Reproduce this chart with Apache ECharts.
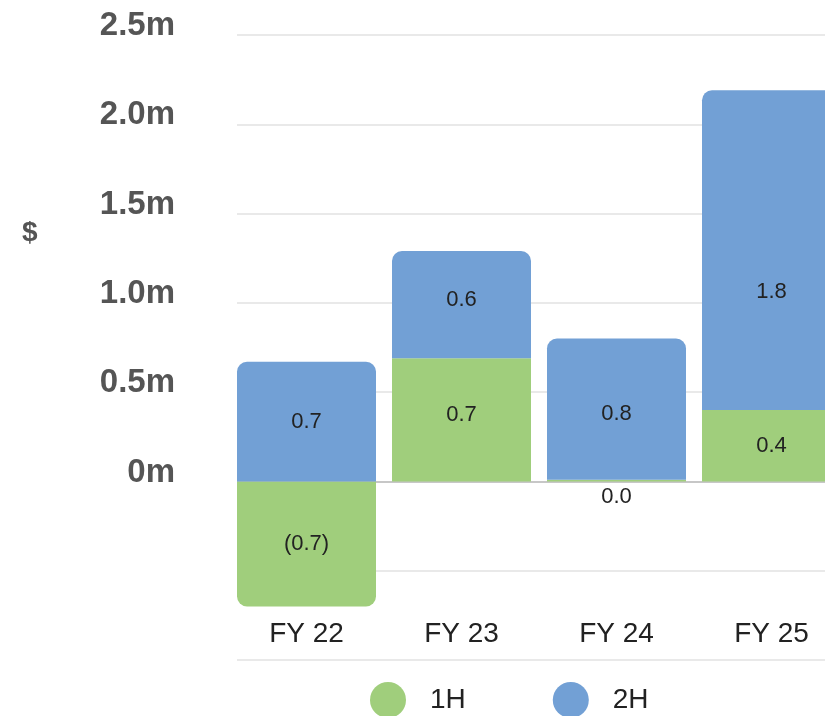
<!DOCTYPE html>
<html>
<head>
<meta charset="utf-8">
<script src="https://cdn.jsdelivr.net/npm/echarts@6/dist/echarts.min.js"></script>
<style>html,body{margin:0;padding:0;background:#fff;}#c{width:825px;height:716px;}</style>
</head>
<body>
<div id="c"></div>
<script>
var categories = ['FY 22', 'FY 23', 'FY 24', 'FY 25'];
var firstHalf = [-0.70, 0.69, 0.01, 0.40];
var secondHalf = [0.67, 0.60, 0.79, 1.79];
var seriesNames = ['1H', '2H'];
var yMin = -1, yMax = 2.5, yStep = 0.5;

var GREEN = '#a0ce7c', BLUE = '#72a0d5';
var FONT = '"Liberation Sans", Arial, sans-serif';

function fmt(v) {
  return v < 0 ? '(' + Math.abs(v).toFixed(1) + ')' : v.toFixed(1);
}

var h1Offsets = [[0, 0], [0, -5], [0, 0], [0, 0]];
var h2Offsets = [[0, 0], [0, -5], [0, 5], [0, 42]];

var h1Data = firstHalf.map(function (v, i) {
  var d = { value: v, label: { offset: h1Offsets[i] } };
  if (v < 0) d.itemStyle = { borderRadius: [0, 0, 10, 10] };
  if (Math.abs(v) < 0.05) d.label = { position: 'bottom', distance: 5 };
  return d;
});
var h2Data = secondHalf.map(function (v, i) {
  return { value: v, label: { offset: h2Offsets[i] } };
});

var chart = echarts.init(document.getElementById('c'), null, { renderer: 'canvas' });
chart.setOption({
  animation: false,
  backgroundColor: '#ffffff',
  textStyle: { fontFamily: FONT },
  graphic: [{
    type: 'text', left: 22, top: 219,
    style: { text: '$', font: 'bold 28px ' + FONT, fill: '#555555' }
  }],
  legend: {
    data: seriesNames,
    left: 370, top: 682, padding: 0,
    itemWidth: 36, itemHeight: 36, itemGap: 87,
    icon: 'circle',
    textStyle: { fontSize: 28, color: '#222222', fontFamily: FONT, padding: [0, 0, 0, 19] }
  },
  grid: [
    { left: 237, width: 612, top: 35, bottom: 56, outerBoundsMode: 'none', containLabel: false },
    { left: 229, width: 620, top: 35, bottom: 56, outerBoundsMode: 'none', containLabel: false }
  ],
  xAxis: [
    { type: 'category', gridIndex: 0, data: categories, show: false },
    {
      type: 'category', gridIndex: 1, data: categories,
      axisLine: { show: false, onZero: false }, axisTick: { show: false },
      axisLabel: { inside: true, margin: 12, fontSize: 28, color: '#222222', fontFamily: FONT }
    }
  ],
  yAxis: [
    {
      type: 'value', gridIndex: 0, min: yMin, max: yMax, interval: yStep,
      axisLine: { show: false }, axisTick: { show: false },
      axisLabel: {
        margin: 62, fontSize: 33, fontWeight: 'bold', color: '#555555', fontFamily: FONT,
        verticalAlign: 'bottom', lineHeight: 18,
        formatter: function (v) { return v < 0 ? '' : (v === 0 ? '0m' : v.toFixed(1) + 'm'); }
      },
      splitLine: { show: true, lineStyle: { width: 1.5, color: ['#e2e2e2', '#e2e2e2', '#b4b4b4', '#e2e2e2', '#e2e2e2', '#e2e2e2', '#e2e2e2', '#e2e2e2'] } }
    },
    {
      type: 'value', gridIndex: 1, min: yMin, max: yMax, interval: yStep, show: false,
      splitLine: { show: false }
    }
  ],
  series: [
    {
      name: seriesNames[0], type: 'bar', stack: 'total', xAxisIndex: 1, yAxisIndex: 1,
      barWidth: 139, itemStyle: { color: GREEN },
      label: { show: true, position: 'inside', fontSize: 22, color: '#222222', fontFamily: FONT,
        formatter: function (p) { return fmt(p.value); } },
      data: h1Data
    },
    {
      name: seriesNames[1], type: 'bar', stack: 'total', xAxisIndex: 1, yAxisIndex: 1,
      barWidth: 139, itemStyle: { color: BLUE, borderRadius: [10, 10, 0, 0] },
      label: { show: true, position: 'inside', fontSize: 22, color: '#222222', fontFamily: FONT,
        formatter: function (p) { return fmt(p.value); } },
      data: h2Data
    }
  ]
});
</script>
</body>
</html>
